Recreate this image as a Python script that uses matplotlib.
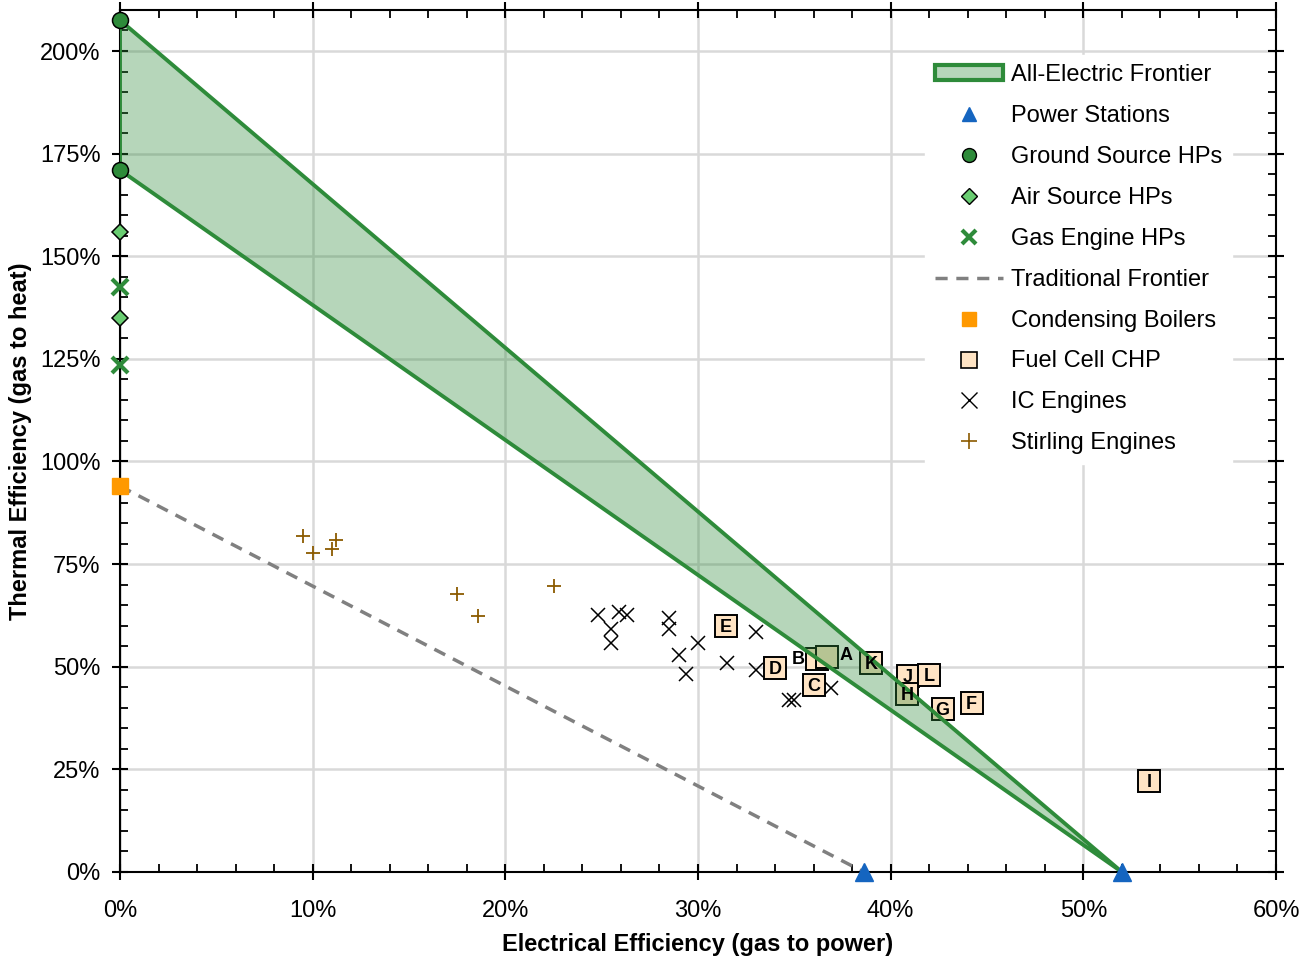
import matplotlib
matplotlib.use("Agg")
import matplotlib.pyplot as plt
from matplotlib.lines import Line2D
from matplotlib.patches import Patch
from matplotlib.ticker import MultipleLocator, PercentFormatter

plt.rcParams['font.family'] = ['Liberation Sans', 'DejaVu Sans']

# values in percent (electrical, thermal)
power_x = [38.6, 52.0]
power_y = [0, 0]
ground_y = [207.5, 171.0]
air_y = [156.0, 135.0]
gas_hp_y = [142.5, 123.5]
boiler_y = [94.0]

fc_names = ['E', 'D', 'B', 'A', 'C', 'K', 'J', 'H', 'L', 'G', 'F', 'I']
fc_x = [31.45, 34.0, 36.2, 36.7, 36.0, 39.0, 40.9, 40.85, 42.0, 42.7, 44.2, 53.4]
fc_y = [59.9, 49.7, 52.0, 52.4, 45.5, 50.9, 47.7, 43.3, 48.0, 39.8, 41.2, 22.2]

ic_x = [24.8, 25.5, 25.5, 25.9, 26.3, 28.5, 28.5, 29.0, 29.4, 30.0, 31.5, 33.0, 33.0, 34.7, 35.0, 36.9]
ic_y = [62.6, 59.3, 55.7, 63.4, 62.6, 61.8, 59.3, 52.8, 48.3, 55.7, 50.8, 58.5, 49.2, 41.9, 41.9, 44.7]

stirling_x = [9.5, 10.0, 11.0, 11.2, 17.5, 18.6, 22.5]
stirling_y = [81.8, 77.6, 78.6, 80.8, 67.7, 62.3, 69.6]

green = '#2e8b3a'
blue = '#1565c0'

fig = plt.figure(figsize=(13.03, 9.58), dpi=100)
ax = fig.add_axes([0.0921, 0.0898, 0.8872, 0.8998])

# all-electric frontier
ax.fill([0, power_x[1], 0], [ground_y[0], 0, ground_y[1]],
        facecolor=(46/255, 139/255, 58/255, 0.35), edgecolor=green, lw=2.8, zorder=4)

# traditional frontier
ax.plot([0, power_x[0]], [boiler_y[0], 0], ls=(0, (3.5, 2.5)), color='#808080', lw=2.5, zorder=2)

ax.plot(stirling_x, stirling_y, ls='none', marker='+', ms=10, mew=1.3, color='#8b5a00', zorder=3)
ax.plot(ic_x, ic_y, ls='none', marker='x', ms=10, mew=1.1, color='black', zorder=3)

ax.plot(fc_x, fc_y, ls='none', marker='s', ms=16, mfc='#ffe4c4', mec='black', mew=1.4, zorder=3)
for n, x, y in zip(fc_names, fc_x, fc_y):
    if n == 'B':
        ax.text(x - 1.0, y - 0.3, n, ha='center', va='center', fontsize=13, fontweight='bold', zorder=6)
    elif n == 'A':
        ax.text(x + 1.0, y + 0.3, n, ha='center', va='center', fontsize=13, fontweight='bold', zorder=6)
    else:
        ax.text(x, y - 0.4, n, ha='center', va='center', fontsize=13, fontweight='bold', zorder=6)

ax.plot([0] * len(gas_hp_y), gas_hp_y, ls='none', marker='x', ms=11, mew=3, color=green, zorder=5, clip_on=False)
ax.plot([0] * len(air_y), air_y, ls='none', marker='D', ms=8.5, mfc='#6acd72', mec='black', mew=1.1, zorder=5, clip_on=False)
ax.plot([0] * len(ground_y), ground_y, ls='none', marker='o', ms=11.5, mfc=green, mec='black', mew=1.1, zorder=5, clip_on=False)
ax.plot([0], boiler_y, ls='none', marker='s', ms=12, color='#ff9900', zorder=5, clip_on=False)
ax.plot(power_x, power_y, ls='none', marker='^', ms=13, color=blue, zorder=5, clip_on=False)

ax.set_xlim(0, 60)
ax.set_ylim(0, 210)
ax.xaxis.set_major_locator(MultipleLocator(10))
ax.xaxis.set_minor_locator(MultipleLocator(2))
ax.yaxis.set_major_locator(MultipleLocator(25))
ax.yaxis.set_minor_locator(MultipleLocator(5))
ax.xaxis.set_major_formatter(PercentFormatter(decimals=0))
ax.yaxis.set_major_formatter(PercentFormatter(decimals=0))
ax.grid(True, which='major', color='#d9d9d9', lw=1.8, zorder=0)
ax.set_axisbelow(True)
ax.tick_params(which='major', direction='inout', length=12, width=1.5, labelsize=17,
               top=True, right=True, pad=8)
ax.tick_params(axis='x', which='major', pad=14)
ax.tick_params(which='minor', direction='in', length=6, width=1.3, top=True, right=True)
for s in ax.spines.values():
    s.set_linewidth(1.5)

ax.set_xlabel('Electrical Efficiency (gas to power)', fontsize=17, fontweight='bold', labelpad=8)
ax.set_ylabel('Thermal Efficiency (gas to heat)', fontsize=17, fontweight='bold', labelpad=6)

handles = [
    Patch(facecolor=(46/255, 139/255, 58/255, 0.35), edgecolor=green, lw=3),
    Line2D([], [], ls='none', marker='^', ms=10, color=blue),
    Line2D([], [], ls='none', marker='o', ms=10, mfc=green, mec='black', mew=1),
    Line2D([], [], ls='none', marker='D', ms=8, mfc='#6acd72', mec='black', mew=1),
    Line2D([], [], ls='none', marker='x', ms=10, mew=3, color=green),
    Line2D([], [], ls=(0, (3.5, 2.5)), lw=2.5, color='#808080'),
    Line2D([], [], ls='none', marker='s', ms=10, color='#ff9900'),
    Line2D([], [], ls='none', marker='s', ms=11, mfc='#ffe4c4', mec='black', mew=1.2),
    Line2D([], [], ls='none', marker='x', ms=11, mew=1, color='black'),
    Line2D([], [], ls='none', marker='+', ms=12, mew=1.2, color='#8b5a00'),
]
labels = ['All-Electric Frontier', 'Power Stations', 'Ground Source HPs', 'Air Source HPs',
          'Gas Engine HPs', 'Traditional Frontier', 'Condensing Boilers', 'Fuel Cell CHP',
          'IC Engines', 'Stirling Engines']
leg = ax.legend(handles, labels, loc='upper right', fontsize=17, frameon=True, framealpha=1,
                edgecolor='white', fancybox=False, handlelength=2.9, handleheight=0.6,
                handletextpad=0.35, labelspacing=0.8, borderaxespad=0,
                bbox_to_anchor=(0.962, 0.948))
leg.set_zorder(7)

fig.savefig('out.png', dpi=100)
